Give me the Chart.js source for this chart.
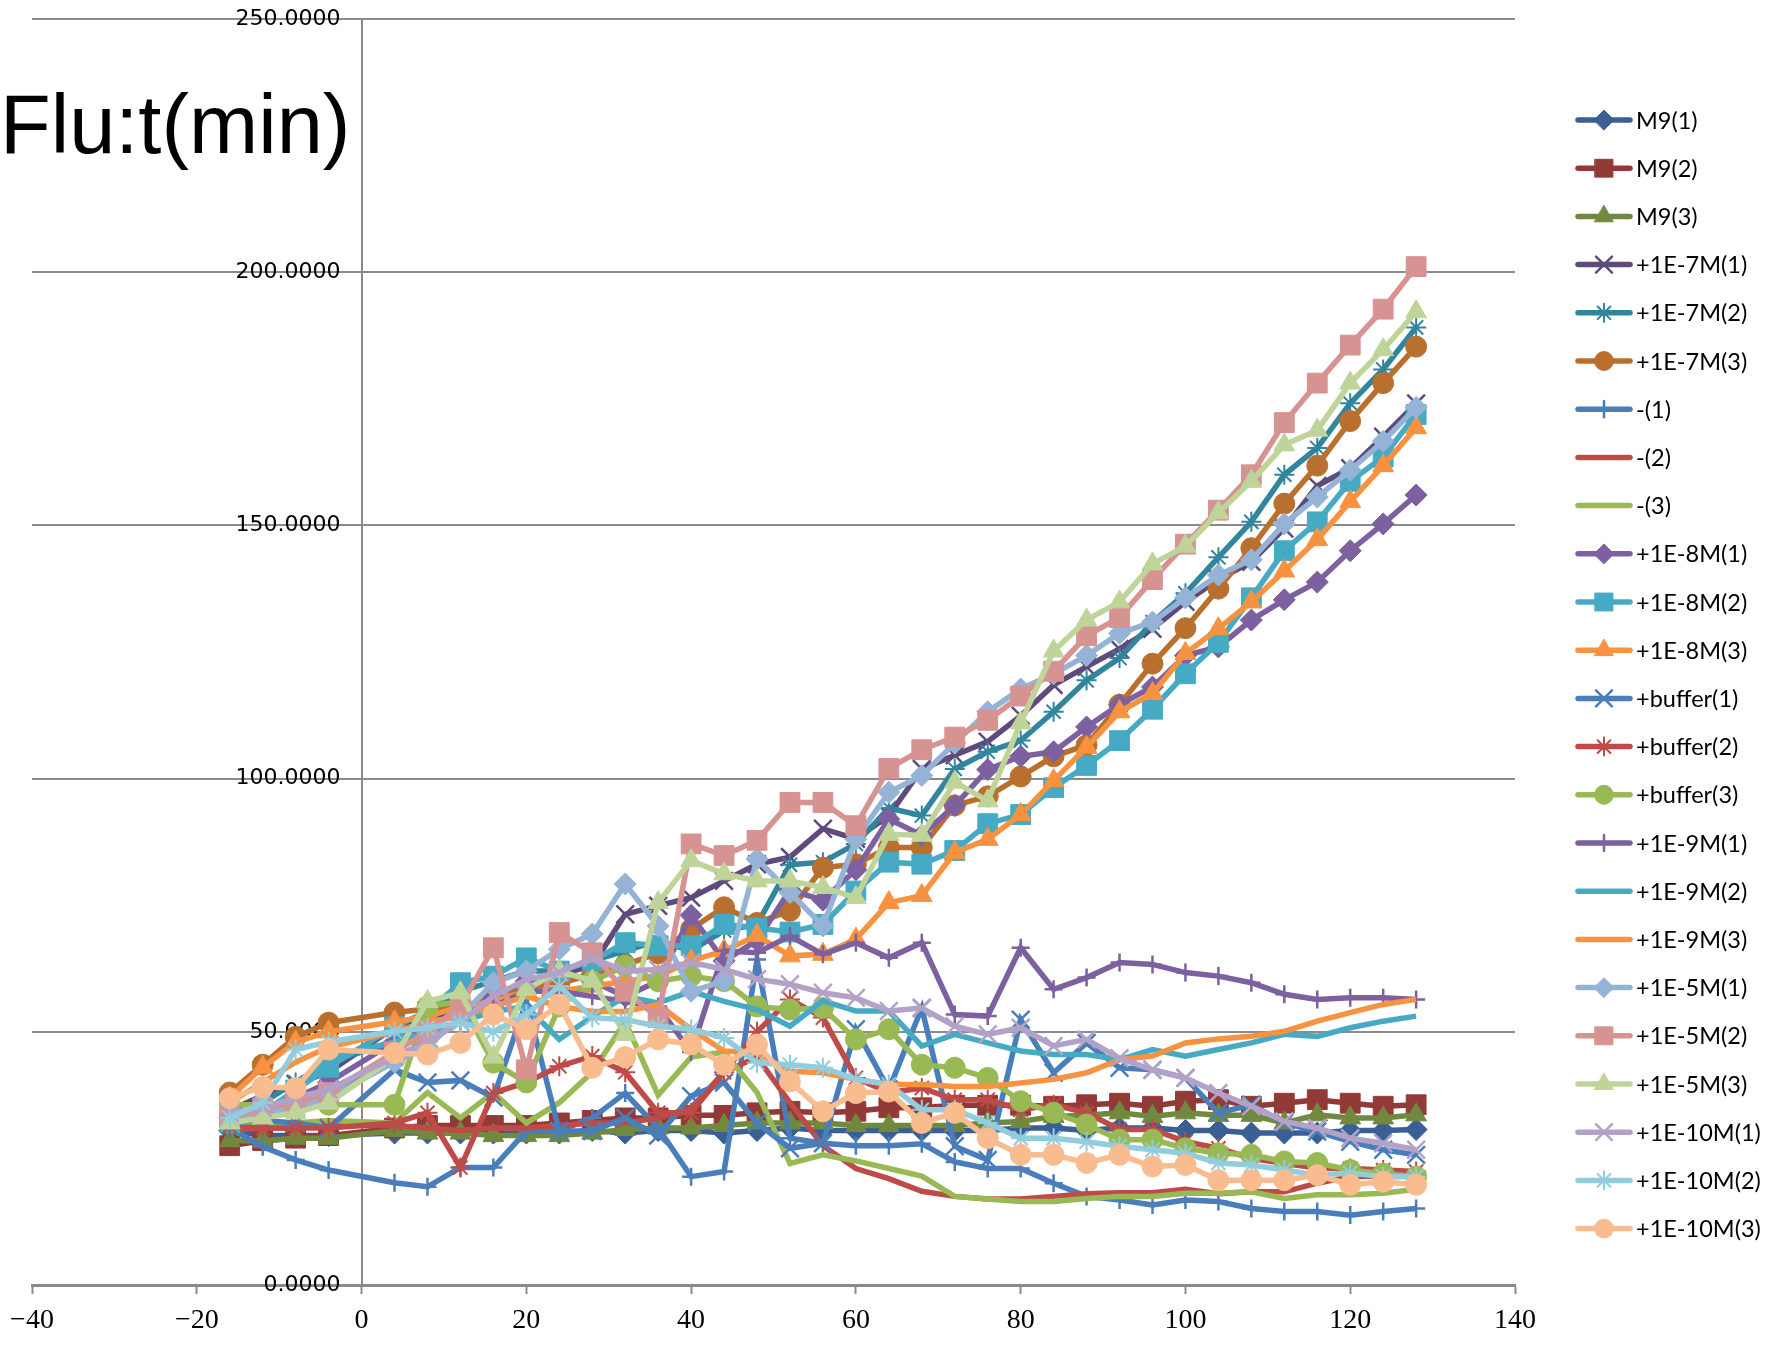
<!DOCTYPE html>
<html>
<head>
<meta charset="utf-8">
<script src="https://cdn.jsdelivr.net/npm/chart.js@4.4.1/dist/chart.umd.min.js"></script>
<style>
  html, body { margin: 0; background: #fff; }
  #wrap { position: relative; width: 1775px; height: 1351px; }
</style>
</head>
<body>
<div id="wrap"><canvas id="chart"></canvas></div>
<script>
// ── Data: time points (min), no reading at t = 0 ──
const minutes = [-16, -12, -8, -4, 4, 8, 12, 16, 20, 24, 28, 32, 36, 40, 44, 48, 52, 56, 60, 64,
  68, 72, 76, 80, 84, 88, 92, 96, 100, 104, 108, 112, 116, 120, 124, 128];

const m9_1 = [30.5, 29.5, 29.5, 29.5, 30, 30, 30, 30, 30, 30, 30.5, 30, 30.5, 30.5, 30, 30.5, 31, 30.5, 30.5, 30.5,
  30.5, 30.5, 30.5, 31, 31, 30.5, 31, 31, 30.5, 30.5, 30, 30, 30, 30.5, 30.5, 30.7];
const m9_2 = [27.5, 28.5, 29, 29.5, 31, 31.5, 31.5, 31.5, 31.5, 32, 32.5, 33, 33, 33.5, 33.5, 34, 34.3, 34, 34.3, 35,
  35, 35.5, 35.5, 35.5, 35.3, 35.6, 35.9, 35.3, 36.3, 36.6, 35.3, 35.9, 36.6, 35.9, 35.3, 35.6];
const m9_3 = [28.5, 28.5, 29, 29, 30.5, 30, 30, 29.5, 29.5, 29.5, 30, 30.7, 31, 31, 31.5, 32, 32, 32, 31.5, 31.5,
  31.5, 31.5, 32, 32.3, 33.3, 33.5, 34, 33.3, 34, 33.5, 33.5, 32, 33.6, 33, 33, 33.6];
const e7_1 = [34.5, 37.4, 39.7, 42, 50.9, 52.5, 54.7, 56.5, 58.7, 61.4, 63, 73.2, 74.9, 76.5, 79.8, 83.1, 84.5, 90.1, 88.1, 92.7,
  101.9, 104.6, 107.3, 112.4, 118.5, 122.1, 125.6, 129.6, 134.9, 139.3, 142.8, 149.4, 157.8, 161.3, 167.5, 174.1];
const e7_2 = [33, 36, 40, 44, 48, 53, 58, 60, 62, 62, 64, 66, 68, 66, 70, 71.2, 83, 83.5, 87.1, 94.2,
  92.7, 101.9, 105.3, 107.5, 113.2, 119.4, 123.8, 130.9, 136.6, 143.7, 150.7, 160, 165.3, 174.1, 180.8, 189.1];
const e7_3 = [38, 43.5, 49, 51.8, 53.8, 54.5, 55, 56.5, 58.7, 59.5, 61.4, 63.2, 65.5, 70.3, 74.6, 71.5, 73.9, 82.4, 83.1, 86.4,
  86.4, 94.7, 96.5, 100.4, 104.4, 106.6, 114.6, 122.7, 129.7, 137.5, 145.5, 154.3, 161.8, 170.6, 178.1, 185.3];
const ctl_1 = [31, 27.3, 24.7, 22.7, 20.2, 19.4, 23.2, 23.2, 30.4, 30.4, 33, 37.9, 31, 21.4, 22.4, 64.3, 29, 28, 27.5, 27.5,
  27.9, 24.3, 23, 23, 20.1, 17.5, 16.8, 15.8, 16.8, 16.5, 15.1, 14.5, 14.5, 13.8, 14.5, 15.1];
const ctl_2 = [30.5, 31, 31, 31.5, 31.5, 31, 30.5, 31, 31, 31.5, 32, 32, 33, 35, 42, 45, 36, 27.5, 23, 21,
  18.5, 17.5, 17, 17, 17.5, 18, 18.2, 18.2, 18.9, 18, 18.4, 18.4, 20.1, 21.4, 21.5, 21.8];
const ctl_3 = [31, 31.5, 32, 32.5, 32, 38, 33, 38, 32, 36, 42, 52, 37.5, 45, 46, 38, 24, 25.7, 24.5, 23,
  21.5, 17.5, 17, 16.5, 16.5, 17.1, 17.5, 17.5, 18.1, 18.1, 18.4, 17.1, 17.8, 17.8, 18.1, 18.9];
const e8_1 = [33, 35, 37, 40, 48, 51, 54, 57, 60, 62, 60, 57, 60, 73, 64, 68, 78, 76, 82, 92,
  88.8, 94.7, 101.8, 104.4, 105.3, 110.2, 114.6, 118.1, 124.3, 126, 131.3, 135.3, 138.8, 145, 150.3, 156];
const e8_2 = [32, 34, 38.5, 43, 51, 54, 59.7, 61, 64.6, 62, 64, 67.6, 67, 67, 71.2, 70.5, 69.7, 71.2, 77.8, 83.5,
  83.1, 85.8, 91.1, 92.9, 98.2, 102.6, 107.5, 113.7, 120.7, 126.9, 135.7, 145, 150.7, 158.7, 163.5, 171.9];
const e8_3 = [37, 43, 48, 50, 52, 53, 55, 56, 58, 58, 59, 60, 61, 64, 66, 69, 65, 65.3, 68.3, 75.5,
  76.9, 85.4, 88, 92.9, 99.6, 106.2, 113.2, 116.8, 124.7, 129.6, 134.9, 141, 147.2, 154.7, 161.8, 169.3];
const buf_1 = [33, 32.5, 32, 31, 42.5, 40, 40.4, 37, 56, 30.4, 30.4, 33, 29.5, 37.3, 40, 32, 27, 28, 50.5, 38.6,
  54.7, 27.4, 24.7, 52.4, 41.9, 47.8, 42.9, 42.5, 40.9, 34, 35.6, 32, 30.3, 28.3, 26.7, 25.7];
const buf_2 = [31.3, 31, 31, 31, 32, 34, 23.2, 37.9, 40, 43.2, 45.2, 42, 34, 34, 42, 50, 56.4, 52.8, 40.9, 38,
  38.9, 36.6, 36.6, 34.6, 35.6, 34, 30.7, 30.7, 28.3, 27, 25, 24, 23.1, 23, 22.7, 22.4];
const buf_3 = [35.6, 35.6, 35.6, 35.6, 35.6, 55, 56, 43.9, 40, 55, 60, 63, 60, 61, 60, 55, 54.4, 54.7, 48.5, 50.5,
  43.5, 42.9, 40.9, 36.3, 34, 31.7, 28.7, 28.7, 27, 26, 25.7, 24.4, 24.1, 22.7, 22, 21.4];
const e9_1 = [32, 34, 36, 38, 45, 48, 52, 55, 58, 58, 57, 56, 55, 46, 66, 65.6, 68.9, 65.3, 67.6, 64.6,
  67.6, 53.4, 53.1, 66.6, 58.4, 60.7, 63.7, 63.3, 61.7, 61, 59.7, 57.4, 56.4, 56.7, 56.7, 56.4];
const e9_2 = [32, 32.5, 38, 45, 48, 50, 52, 54, 55, 48.5, 53, 57, 55.7, 58, 56, 54.4, 51.1, 56.1, 54.1, 54.1,
  47.2, 49.5, 47.8, 46.2, 45.5, 45.5, 44.5, 46.5, 45.2, 46.5, 47.8, 49.5, 49.1, 50.8, 52.1, 53.1];
const e9_3 = [36, 40, 44, 47, 50, 52, 53, 55, 57, 55, 54, 54, 55.4, 50.5, 46.2, 45.8, 42.2, 41.9, 40.6, 39.6,
  39.6, 39.2, 39.2, 39.9, 40.6, 41.9, 44.5, 45.2, 47.8, 48.6, 49.1, 50.1, 52.1, 53.8, 55.4, 56.4];
const e5_1 = [33, 34, 35, 37, 44, 47, 53, 59.7, 62, 66.3, 69.3, 79.2, 70.9, 58, 60, 84.1, 77.5, 70.9, 88, 97.3,
  100.6, 107, 113.2, 117.7, 120.7, 124.3, 128.7, 130.9, 135.7, 140.2, 143.2, 150.3, 155.6, 160.9, 166.6, 173.3];
const e5_2 = [33, 35, 36, 38, 46, 50, 55, 66.6, 42.5, 69.6, 65.6, 58, 52.8, 87.1, 84.8, 87.8, 95.3, 95.3, 90.7, 102,
  105.7, 108.2, 111.5, 116.3, 121.2, 128.2, 131.8, 139.3, 146.3, 153, 160, 170.3, 178.1, 185.6, 192.7, 201.1];
const e5_3 = [32, 33, 34, 35.9, 45, 56, 57.7, 45, 58.4, 62, 60, 49.5, 75.5, 83.8, 81.2, 79.8, 79.8, 78.5, 76.5, 89,
  88.8, 99.3, 95.6, 111, 125.2, 131.3, 134.9, 142.4, 145.9, 152.5, 158.7, 165.9, 168.8, 178.1, 184.7, 192.2];
const e10_1 = [34, 35, 37, 38.6, 45, 48, 52, 57, 60.3, 61.7, 64.6, 62, 62.3, 63.7, 62.3, 60.4, 59.4, 57.7, 56.7, 54.1,
  54.7, 51.1, 49.5, 50.8, 47.2, 48.5, 44.8, 42.5, 40.9, 37.9, 35.3, 32.3, 31, 29, 28, 26.7];
const e10_2 = [33, 36, 46.5, 48, 50.1, 50.8, 51.8, 50, 53.4, 59, 52.8, 52.4, 51.1, 50.5, 48.8, 43.9, 43.5, 42.9, 40.6, 39.6,
  34.6, 34.6, 32, 29, 29, 28.3, 27.4, 26.7, 26, 24.1, 23.7, 22.7, 21.7, 22.1, 21.4, 21.4];
const e10_3 = [36.9, 39.1, 38.9, 46.5, 45.8, 45.5, 47.8, 53.4, 50.5, 55.4, 42.9, 45, 48.5, 47.5, 43.5, 47.5, 40.2, 34.3, 37.9, 38.2,
  32, 34, 29, 25.7, 25.7, 24.1, 25.7, 23.4, 23.7, 20.7, 20.7, 20.7, 21.7, 19.8, 20.4, 19.8];

const seriesNames = ['M9(1)', 'M9(2)', 'M9(3)', '+1E-7M(1)', '+1E-7M(2)', '+1E-7M(3)', '-(1)', '-(2)', '-(3)',
  '+1E-8M(1)', '+1E-8M(2)', '+1E-8M(3)', '+buffer(1)', '+buffer(2)', '+buffer(3)', '+1E-9M(1)', '+1E-9M(2)', '+1E-9M(3)',
  '+1E-5M(1)', '+1E-5M(2)', '+1E-5M(3)', '+1E-10M(1)', '+1E-10M(2)', '+1E-10M(3)'];
const seriesValues = [m9_1, m9_2, m9_3, e7_1, e7_2, e7_3, ctl_1, ctl_2, ctl_3, e8_1, e8_2, e8_3,
  buf_1, buf_2, buf_3, e9_1, e9_2, e9_3, e5_1, e5_2, e5_3, e10_1, e10_2, e10_3];
const seriesColors = ['#3A5F94', '#923A37', '#71893F', '#5E4A7B', '#31859C', '#B9702F',
  '#4A7EBB', '#BE4B48', '#98B954', '#7D60A0', '#46AAC5', '#F69240',
  '#4A7EBB', '#BE4B48', '#98B954', '#7D60A0', '#46AAC5', '#F69240',
  '#95B3D7', '#D69391', '#BFD499', '#B3A2C7', '#93CDDD', '#F9BC8F'];
const seriesMarkers = ['diamond', 'square', 'triangle', 'x', 'star', 'circle', 'plus', 'none', 'none',
  'diamond', 'square', 'triangle', 'x', 'star', 'circle', 'plus', 'none', 'none',
  'diamond', 'square', 'triangle', 'x', 'star', 'circle'];
const yTicks = [0, 50, 100, 150, 200, 250];

// Excel-like marker shapes
const MARKERS = {
  diamond:  { pointStyle: 'rectRot',  radius: 11,   border: 1 },
  square:   { pointStyle: 'rect',     radius: 14,   border: 1 },
  triangle: { pointStyle: 'triangle', radius: 12,   border: 1 },
  x:        { pointStyle: 'crossRot', radius: 12.5, border: 2.5 },
  star:     { pointStyle: 'star',     radius: 10,   border: 2 },
  circle:   { pointStyle: 'circle',   radius: 10.5, border: 1 },
  plus:     { pointStyle: 'cross',    radius: 9,    border: 2.5 },
  none:     { pointStyle: 'circle',   radius: 0,    border: 0 }
};

const datasets = seriesNames.map((name, i) => {
  const m = MARKERS[seriesMarkers[i]];
  return {
    label: name,
    data: minutes.map((t, k) => ({ x: t, y: seriesValues[i][k] })),
    borderColor: seriesColors[i],
    backgroundColor: seriesColors[i],
    borderWidth: 5.5,
    pointStyle: m.pointStyle,
    pointRadius: m.radius,
    pointBorderWidth: m.border,
    pointBackgroundColor: seriesColors[i],
    pointBorderColor: seriesColors[i],
    tension: 0,
    order: -i   // later series drawn on top, as in the original
  };
});

// legend on the right (line + marker) and the big heading
const sideLegend = {
  id: 'sideLegend',
  afterDraw(chart) {
    const ctx = chart.ctx;
    ctx.save();
    chart.data.datasets.forEach((ds, i) => {
      const y = 120 + i * 48.2;
      ctx.strokeStyle = ds.borderColor;
      ctx.lineWidth = 5.5;
      ctx.lineCap = 'round';
      ctx.beginPath();
      ctx.moveTo(1578, y);
      ctx.lineTo(1630, y);
      ctx.stroke();
      if (ds.pointRadius > 0) {
        ctx.fillStyle = ds.pointBackgroundColor;
        ctx.strokeStyle = ds.pointBorderColor;
        ctx.lineWidth = ds.pointBorderWidth;
        Chart.helpers.drawPoint(ctx, {
          pointStyle: ds.pointStyle, radius: ds.pointRadius * 0.9,
          borderWidth: ds.pointBorderWidth, rotation: 0
        }, 1604, y);
      }
      ctx.fillStyle = '#000';
      ctx.font = '23.5px Lato';
      ctx.textAlign = 'left';
      ctx.textBaseline = 'middle';
      ctx.fillText(ds.label, 1636, y + 1);
    });
    ctx.fillStyle = '#000';
    ctx.font = '83px "Liberation Sans"';
    ctx.textBaseline = 'alphabetic';
    ctx.fillText('Flu:t(min)', 0, 153);
    ctx.restore();
  }
};

new Chart(document.getElementById('chart'), {
  type: 'line',
  data: { datasets },
  plugins: [sideLegend],
  options: {
    responsive: true,
    maintainAspectRatio: false,
    animation: false,
    events: [],
    layout: { padding: { left: 32, right: 260, top: 19, bottom: 6 } },
    plugins: { legend: { display: false }, tooltip: { enabled: false } },
    scales: {
      x: {
        type: 'linear',
        min: -40, max: 140,
        afterFit: (s) => { s.height = 60; },
        border: { color: '#8a8a8a', width: 3 },
        grid: { drawOnChartArea: false, drawTicks: true, tickLength: 9, tickColor: '#8a8a8a', tickWidth: 2 },
        ticks: {
          stepSize: 20, maxRotation: 0, padding: 10, color: '#000',
          font: { family: '"Liberation Serif"', size: 28 },
          callback: (v) => (v < 0 ? '\u2212' + Math.abs(v) : String(v))
        }
      },
      y: {
        type: 'linear',
        min: 0, max: 250,
        position: { x: 0 },
        afterFit: (s) => { s.width = 0; },
        afterBuildTicks: (s) => { s.ticks = yTicks.map(v => ({ value: v })); },
        border: { color: '#8a8a8a', width: 2 },
        grid: { color: '#8a8a8a', lineWidth: 2, drawTicks: false },
        ticks: {
          color: '#000',
          font: { family: '"DejaVu Sans"', size: 22 },
          // trailing spaces keep the label clear of the axis line
          callback: (v) => Number(v).toFixed(4) + '   '
        }
      }
    }
  }
});
</script>
</body>
</html>
